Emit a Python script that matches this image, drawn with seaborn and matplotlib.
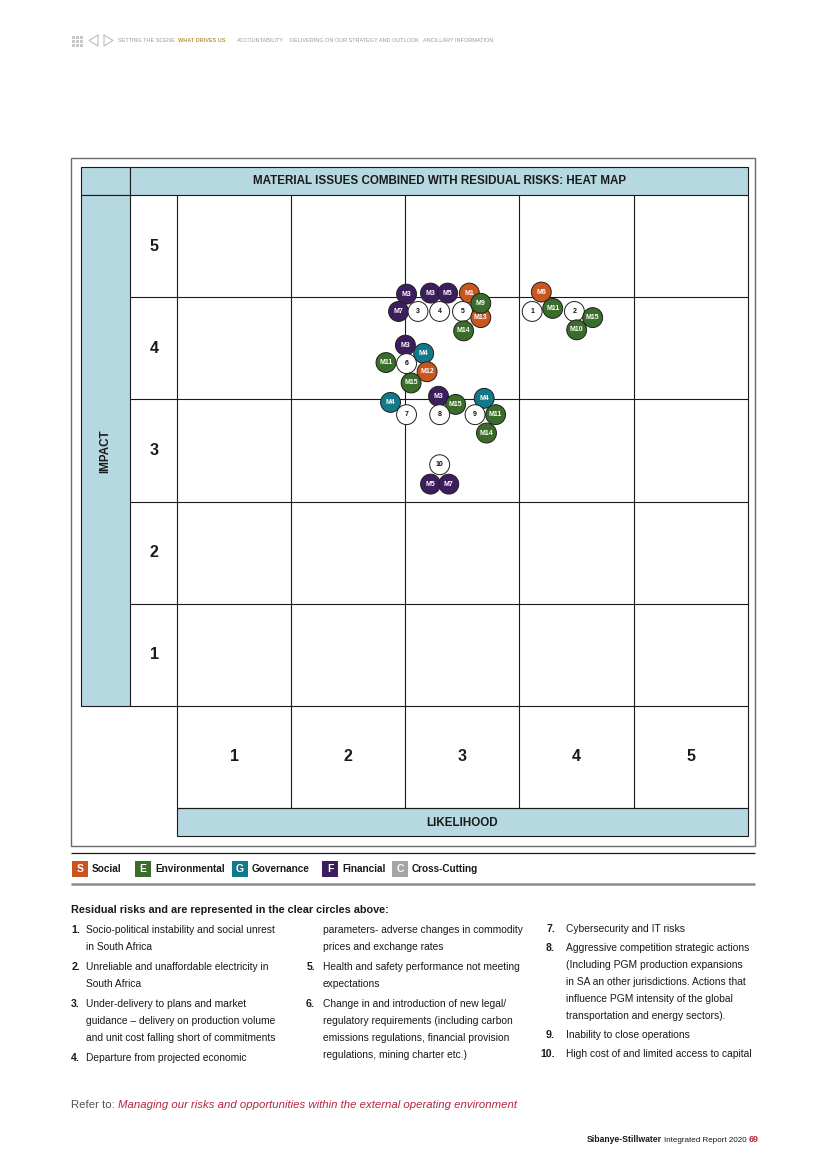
import matplotlib
matplotlib.use("Agg")
import matplotlib.pyplot as plt
import seaborn as sns
import pandas as pd
from matplotlib.patches import Rectangle

# ---------------- data ----------------
labels = ["M3", "M3", "M5", "M1", "M7", "3", "4", "5", "M13", "M9", "M14",
          "M6", "1", "M11", "2", "M15", "M10",
          "M3", "M4", "M11", "6", "M12", "M15",
          "M4", "7", "M3", "M15", "8", "M4", "9", "M11", "M14",
          "10", "M5", "M7"]
categories = ["Financial", "Financial", "Financial", "Social", "Financial", "Residual", "Residual",
              "Residual", "Social", "Environmental", "Environmental",
              "Social", "Residual", "Environmental", "Residual", "Environmental", "Environmental",
              "Financial", "Governance", "Environmental", "Residual", "Social", "Environmental",
              "Governance", "Residual", "Financial", "Environmental", "Residual", "Governance",
              "Residual", "Environmental", "Environmental",
              "Residual", "Financial", "Financial"]
likelihood = [2.51, 2.72, 2.87, 3.06, 2.44, 2.61, 2.80, 3.00, 3.16, 3.16, 3.01,
              3.69, 3.61, 3.79, 3.98, 4.14, 4.00,
              2.50, 2.66, 2.33, 2.51, 2.69, 2.55,
              2.37, 2.51, 2.79, 2.94, 2.80, 3.19, 3.11, 3.29, 3.21,
              2.80, 2.72, 2.88]
impact = [4.53, 4.54, 4.54, 4.54, 4.36, 4.36, 4.36, 4.36, 4.30, 4.44, 4.17,
          4.55, 4.36, 4.39, 4.36, 4.30, 4.18,
          4.03, 3.95, 3.86, 3.85, 3.77, 3.66,
          3.47, 3.35, 3.53, 3.45, 3.35, 3.51, 3.35, 3.35, 3.17,
          2.86, 2.67, 2.67]

scale_labels = ["1", "2", "3", "4", "5"]
legend_letters = ["S", "E", "G", "F", "C"]
legend_names = ["Social", "Environmental", "Governance", "Financial", "Cross-Cutting"]

risk_col1 = [("1.", ["Socio-political instability and social unrest", "in South Africa"]),
             ("2.", ["Unreliable and unaffordable electricity in", "South Africa"]),
             ("3.", ["Under-delivery to plans and market",
                     "guidance \u2013 delivery on production volume",
                     "and unit cost falling short of commitments"]),
             ("4.", ["Departure from projected economic"])]
risk_col2 = [("", ["parameters- adverse changes in commodity", "prices and exchange rates"]),
             ("5.", ["Health and safety performance not meeting", "expectations"]),
             ("6.", ["Change in and introduction of new legal/",
                     "regulatory requirements (including carbon",
                     "emissions regulations, financial provision",
                     "regulations, mining charter etc.)"])]
risk_col3 = [("7.", ["Cybersecurity and IT risks"]),
             ("8.", ["Aggressive competition strategic actions",
                     "(Including PGM production expansions",
                     "in SA an other jurisdictions. Actions that",
                     "influence PGM intensity of the global",
                     "transportation and energy sectors)."]),
             ("9.", ["Inability to close operations"]),
             ("10.", ["High cost of and limited access to capital"])]

# ---------------- style ----------------
sns.set_theme(style="white")
FONT = ["Liberation Sans", "DejaVu Sans"]
plt.rcParams["font.family"] = FONT

palette = {"Social": "#c9561f", "Environmental": "#3a6d2a", "Governance": "#12798a",
           "Financial": "#3c1d5d", "Residual": "#ffffff"}
legend_colors = ["#c9561f", "#3a6d2a", "#12798a", "#3c1d5d", "#a5a5a5"]
LIGHT = "#b5d8e1"
INK = "#1a1a1a"

W, H = 826, 1168
fig = plt.figure(figsize=(W / 100, H / 100), dpi=100)
fig.patch.set_facecolor("white")

bg = fig.add_axes([0, 0, 1, 1])
bg.set_xlim(0, W)
bg.set_ylim(H, 0)
bg.axis("off")


def P(x, y):
    return x / W, 1 - y / H


def hline(y, x0, x1, color=INK, lw=0.8):
    bg.plot([x0, x1], [y, y], color=color, lw=lw, solid_capstyle="butt")


def vline(x, y0, y1, color=INK, lw=0.8):
    bg.plot([x, x], [y0, y1], color=color, lw=lw, solid_capstyle="butt")


# outer frame
bg.add_patch(Rectangle((71, 158), 684, 688, fill=False, edgecolor="#6a6a6a", lw=1.0))

# header + impact + likelihood bars
bg.add_patch(Rectangle((81, 167), 49, 28, facecolor=LIGHT, edgecolor=INK, lw=0.8))
bg.add_patch(Rectangle((130, 167), 618, 28, facecolor=LIGHT, edgecolor=INK, lw=0.8))
bg.add_patch(Rectangle((81, 195), 49, 511, facecolor=LIGHT, edgecolor=INK, lw=0.8))
bg.add_patch(Rectangle((177, 808), 571, 28, facecolor=LIGHT, edgecolor=INK, lw=0.8))

col_edges = [177, 291, 405, 519, 634, 748]
row_edges = [195, 297, 399, 502, 604, 706, 808]
for x in col_edges:
    vline(x, 195, 808)
for y in row_edges[1:-1]:
    hline(y, 130, 748)
hline(808, 177, 748)

fig.text(*P(440, 181), "MATERIAL ISSUES COMBINED WITH RESIDUAL RISKS: HEAT MAP",
         ha="center", va="center", fontsize=8.4, fontweight="bold", color=INK)
fig.text(*P(105, 451), "IMPACT", ha="center", va="center", rotation=90,
         fontsize=8.4, fontweight="bold", color=INK)
fig.text(*P(462, 823), "LIKELIHOOD", ha="center", va="center",
         fontsize=8.4, fontweight="bold", color=INK)

# ---------------- heat-map grid axes ----------------
ax = fig.add_axes([177 / W, 1 - 808 / H, 571 / W, 613 / H])
ax.set_xlim(0.5, 5.5)
ax.set_ylim(-0.5, 5.5)
ax.patch.set_alpha(0)
for s in ax.spines.values():
    s.set_visible(False)

for i, lab in enumerate(scale_labels, start=1):
    ax.text(i, 0, lab, ha="center", va="center", fontsize=11.5, fontweight="bold", color=INK)
    ax.text(0.30, i, lab, ha="center", va="center", fontsize=11.5, fontweight="bold",
            color=INK, clip_on=False)

df = pd.DataFrame({"label": labels, "category": categories,
                   "likelihood": likelihood, "impact": impact})
sns.scatterplot(data=df, x="likelihood", y="impact", hue="category", palette=palette,
                s=205, edgecolor="#1f1f1f", linewidth=0.7, legend=False, ax=ax, zorder=3)
ax.set_xlabel("")
ax.set_ylabel("")
ax.set_xticks([])
ax.set_yticks([])
for _, r in df.iterrows():
    ax.text(r.likelihood, r.impact, r.label, ha="center", va="center",
            fontsize=5.0, fontweight="bold",
            color="#111111" if r.category == "Residual" else "white", zorder=4)

# ---------------- top navigation ----------------
for i in range(3):
    for j in range(3):
        bg.add_patch(Rectangle((72 + i * 4.2, 36 + j * 4.2), 2.6, 2.6, color="#c8c8c8", lw=0))
bg.plot([98, 89, 98, 98], [35, 40.5, 46, 35], color="#bdbdbd", lw=0.8)
bg.plot([104, 113, 104, 104], [35, 40.5, 46, 35], color="#bdbdbd", lw=0.8)
nav = [(118, "SETTING THE SCENE", "#9a9a9a", "normal"),
       (178, "WHAT DRIVES US", "#b89a4a", "bold"),
       (237, "ACCOUNTABILITY", "#9a9a9a", "normal"),
       (290, "DELIVERING ON OUR STRATEGY AND OUTLOOK", "#9a9a9a", "normal"),
       (423, "ANCILLARY INFORMATION", "#9a9a9a", "normal")]
for x, t, c, w in nav:
    fig.text(*P(x, 40.5), t, ha="left", va="center", fontsize=4.0, color=c, fontweight=w)

# ---------------- legend ----------------
hline(853, 71, 755, color=INK, lw=0.9)
hline(884, 71, 755, color="#8a8a8a", lw=1.8)
leg_x = [72, 135, 232, 322, 392]
for x, letter, name, c in zip(leg_x, legend_letters, legend_names, legend_colors):
    bg.add_patch(Rectangle((x, 861), 16, 16, color=c, lw=0))
    fig.text(*P(x + 8, 869), letter, ha="center", va="center", fontsize=7.5,
             fontweight="bold", color="white")
    fig.text(*P(x + 20, 869), name, ha="left", va="center", fontsize=7.2,
             fontweight="bold", color=INK)

# ---------------- residual risk list ----------------
fig.text(*P(71, 910), "Residual risks and are represented in the clear circles above:",
         ha="left", va="center", fontsize=7.8, fontweight="bold", color=INK)


def draw_col(items, num_right, text_x, y0, line_h=16.8, gap=3.6):
    y = y0
    for num, lines in items:
        if num:
            fig.text(*P(num_right, y), num, ha="right", va="center", fontsize=7.6,
                     fontweight="bold", color=INK)
        for ln in lines:
            fig.text(*P(text_x, y), ln, ha="left", va="center", fontsize=7.4, color=INK)
            y += line_h
        y += gap


draw_col(risk_col1, 80, 86, 930)
draw_col(risk_col2, 315, 323, 930)
draw_col(risk_col3, 555, 566, 929, line_h=16.8, gap=2.6)

# ---------------- footer ----------------
fig.text(*P(71, 1105), "Refer to:", ha="left", va="center", fontsize=8.2, color="#555555")
fig.text(*P(118, 1105), "Managing our risks and opportunities within the external operating environment",
         ha="left", va="center", fontsize=8.2, color="#b3253f", style="italic")
fig.text(*P(662, 1140), "Sibanye-Stillwater", ha="right", va="center", fontsize=6.2,
         fontweight="bold", color=INK)
fig.text(*P(664, 1140), "Integrated Report 2020", ha="left", va="center", fontsize=5.8,
         color=INK)
fig.text(*P(749, 1140), "69", ha="left", va="center", fontsize=6.4, fontweight="bold",
         color="#b3253f")

fig.savefig("out.png", dpi=100, facecolor="white")
